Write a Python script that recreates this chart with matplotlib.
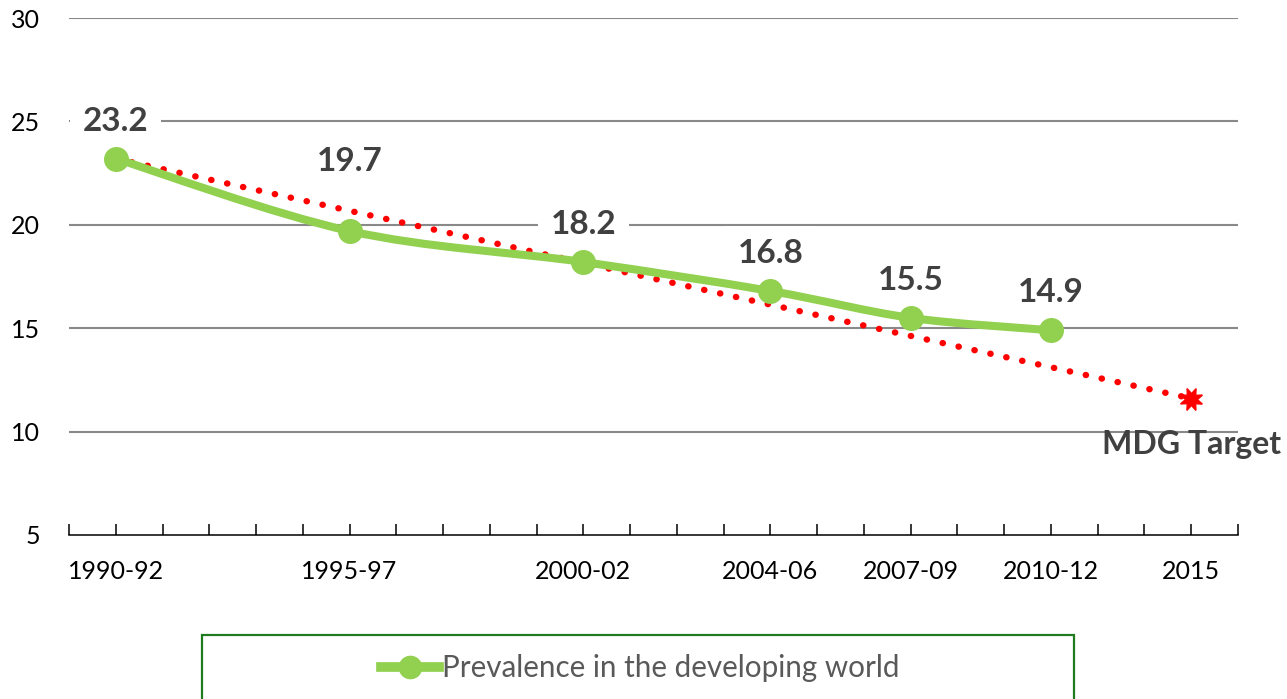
import numpy as np
import matplotlib
matplotlib.use("Agg")
import matplotlib.pyplot as plt
from matplotlib.path import Path
from matplotlib.patches import PathPatch, Rectangle
from matplotlib.lines import Line2D

plt.rcParams['font.family'] = ['Lato', 'DejaVu Sans']

# Period labels and the end year of each period (used as x position)
periods = ["1990-92", "1995-97", "2000-02", "2004-06", "2007-09", "2010-12", "2015"]
period_end = [1992, 1997, 2002, 2006, 2009, 2012, 2015]

# Undernourishment prevalence in the developing world (%)
prevalence = [23.2, 19.7, 18.2, 16.8, 15.5, 14.9]
prevalence_years = period_end[:6]

# MDG target: halve the 1990-92 prevalence by 2015
target_years = [1992, 2015]
target_values = [23.2, 11.6]

GREEN = "#92D050"
RED = "#FF0000"
LABEL = "#404040"

fig = plt.figure(figsize=(12.87, 6.99), dpi=100)
ax = fig.add_axes([69 / 1287, 1 - 535 / 699, (1238 - 69) / 1287, (535 - 18) / 699])

ax.set_xlim(1991, 2016)
ax.set_ylim(5, 30)

# Horizontal gridlines
ax.set_yticks([5, 10, 15, 20, 25, 30])
for yv in [10, 15, 20, 25, 30]:
    ax.axhline(yv, color="#898989", lw=1.5, zorder=1)

# Target trend (dotted red) with end marker
ax.plot(target_years, target_values, color=RED, lw=4.6, dashes=(0.05, 2.5),
        dash_capstyle="round", zorder=3)
ax.plot(target_years[-1], target_values[-1], marker=(8, 1, 22), ms=17,
        color=RED, mec=RED, zorder=3.5)

# Smoothed series line (Catmull-Rom style Bezier through the data points)
pts = np.column_stack([prevalence_years, prevalence]).astype(float)
n = len(pts)
verts = [pts[0]]
codes = [Path.MOVETO]
for i in range(n - 1):
    p_prev = pts[i - 1] if i > 0 else pts[i]
    p_next2 = pts[i + 2] if i + 2 < n else pts[i + 1]
    c1 = pts[i] + (pts[i + 1] - p_prev) / 6.0
    c2 = pts[i + 1] - (p_next2 - pts[i]) / 6.0
    verts += [c1, c2, pts[i + 1]]
    codes += [Path.CURVE4] * 3
curve = PathPatch(Path(verts, codes), facecolor="none", edgecolor=GREEN,
                  lw=5.8, capstyle="round", joinstyle="round", zorder=4)
ax.add_patch(curve)
ax.plot(prevalence_years, prevalence, ls="none", marker="o", ms=17,
        color=GREEN, mec=GREEN, zorder=5)

# Data labels (white boxes hide gridlines but sit under the series)
offsets = [27, 50, 27, 27, 27, 27]
box = dict(boxstyle="square,pad=0.38", fc="white", ec="none")
for xv, yv, off in zip(prevalence_years, prevalence, offsets):
    ax.annotate(f"{yv:.1f}", (xv, yv), xytext=(0, off), textcoords="offset points",
                ha="center", va="center", fontsize=24, fontweight="bold",
                color=LABEL, bbox=box, zorder=2)
ax.annotate("MDG Target", (target_years[-1], target_values[-1]), xytext=(0, -33),
            textcoords="offset points", ha="center", va="center", fontsize=23,
            fontweight="bold", color=LABEL, zorder=2, annotation_clip=False)

# Axes styling
for side in ["top", "right", "left"]:
    ax.spines[side].set_visible(False)
ax.spines["bottom"].set_color("black")
ax.spines["bottom"].set_linewidth(1.1)

ax.set_xticks(period_end)
ax.set_xticklabels(periods)
ax.set_xticks(np.arange(1991, 2017), minor=True)
ax.tick_params(axis="x", which="both", direction="in", length=8, width=1.1,
               color="black", labelsize=18, pad=18)
ax.tick_params(axis="y", length=0, labelsize=18, pad=21)
ax.set_yticklabels(["5", "10", "15", "20", "25", "30"])

# Legend
fig.add_artist(Rectangle((202 / 1287, -0.05), (1074 - 202) / 1287, 0.05 + (699 - 635) / 699,
                         transform=fig.transFigure, fill=False, ec="#1E7B1E", lw=1.6))
handle = Line2D([], [], color=GREEN, lw=7, marker="o", ms=16, mec=GREEN)
fig.legend([handle], ["Prevalence in the developing world"], loc="center",
           bbox_to_anchor=(640 / 1287, 1 - 668 / 699), frameon=False, fontsize=21.3,
           handlelength=1.95, handletextpad=0.1, labelcolor="#595959")

fig.savefig("out.png", dpi=100)
